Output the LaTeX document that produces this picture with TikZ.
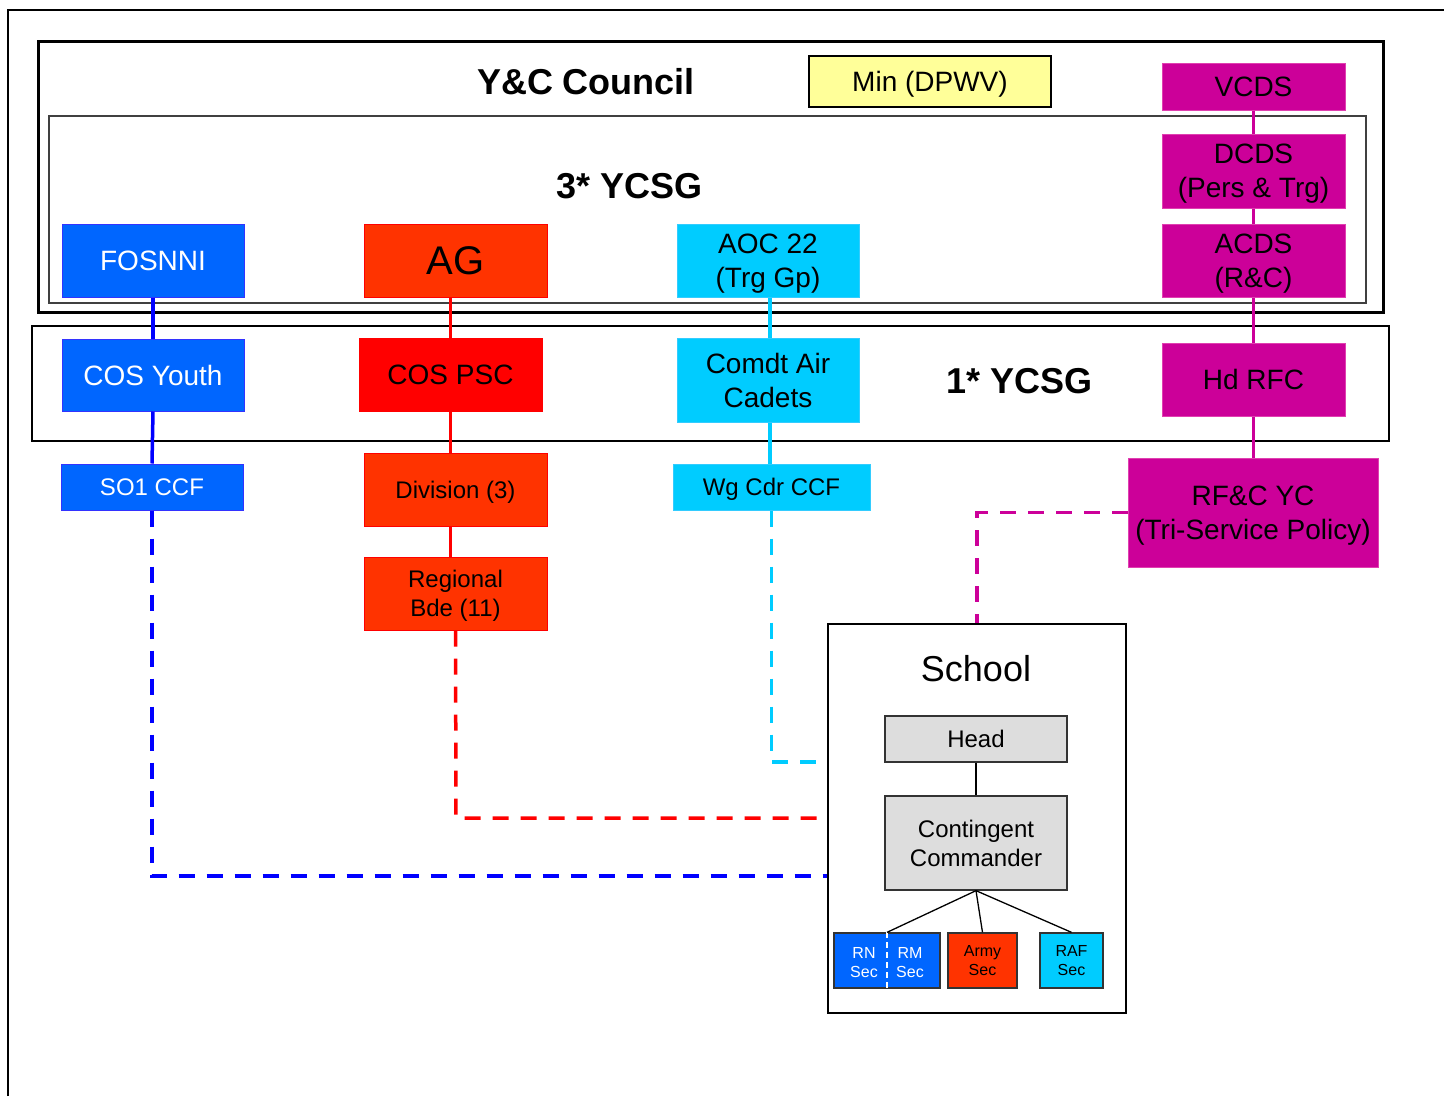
\documentclass[tikz,border=0pt]{standalone}
\usepackage{fontspec}
\setmainfont{Liberation Sans}
\usetikzlibrary{calc}
\definecolor{bluefill}{HTML}{0066FF}
\definecolor{blueedge}{HTML}{3333FF}
\definecolor{blueline}{HTML}{0000FF}
\definecolor{orfill}{HTML}{FF3300}
\definecolor{redfill}{HTML}{FF0000}
\definecolor{redline}{HTML}{FF0000}
\definecolor{cyanfill}{HTML}{00CCFF}
\definecolor{cyanedge}{HTML}{33CCFF}
\definecolor{magfill}{HTML}{CC0099}
\definecolor{magedge}{HTML}{E040B0}
\definecolor{yelfill}{HTML}{FFFF99}
\definecolor{grayfill}{HTML}{DDDDDD}
\newcommand{\fs}[2]{\fontsize{#1}{#2}\selectfont}
\tikzset{
  sz/.style n args={2}{minimum width=#1pt, minimum height=#2pt},
  basebox/.style={inner sep=0pt, align=center, line width=1pt, text depth=0pt},
  bluebox/.style={basebox, draw=blueedge, fill=bluefill, text=white},
  orbox/.style={basebox, draw=redfill, fill=orfill},
  redbox/.style={basebox, draw=redfill, fill=redfill},
  cyanbox/.style={basebox, draw=cyanedge, fill=cyanfill},
  magbox/.style={basebox, draw=magedge, fill=magfill},
  yelbox/.style={basebox, draw=black, fill=yelfill, line width=1.3pt},
  graybox/.style={inner sep=0pt, align=center, draw=black!80, fill=grayfill, line width=1.3pt},
  bconn/.style={draw=blueline, line width=3.5pt},
  rconn/.style={draw=redline, line width=3.5pt},
  cconn/.style={draw=cyanfill, line width=3.5pt},
  mconn/.style={draw=magfill, line width=3.5pt},
  dashpat/.style={dash pattern=on 16pt off 12pt},
  thinline/.style={draw=black, line width=1.3pt},
}
\begin{document}
\begin{tikzpicture}[x=1pt,y=-1pt]
\useasboundingbox (0,0) rectangle (1444,1096);
% page frame
\draw[line width=2pt] (8,1096) -- (8,10) -- (1444,10);
% group frames
\draw[line width=3pt] (38,41) rectangle (1383,312);
\draw[line width=1.8pt, black!75] (49,116) rectangle (1366,303);
\draw[line width=1.2pt] (32,326) rectangle (1389,441);
\node[font=\fs{36}{43}\bfseries] (ycc) at (586,82) {Y\&C Council};
\node[font=\fs{36}{43}\bfseries] (ycsg3) at (630,186) {3* YCSG};
\node[font=\fs{36}{43}\bfseries] (ycsg1) at (1020,381) {1* YCSG};
% blue column
\node[bluebox, sz={182}{73}, font=\fs{28}{34}] (fos) at (153,260.5) {FOSNNI};
\node[bluebox, sz={182}{72}, font=\fs{28}{34}] (cosy) at (153,375) {COS Youth};
\node[bluebox, sz={182}{46}, font=\fs{24}{29}] (so1) at (152,487) {SO1 CCF};
% red column
\node[orbox, sz={183}{73}, font=\fs{40}{48}] (ag) at (455.5,260.5) {AG};
\node[redbox, sz={183}{73}, font=\fs{28}{34}] (cospsc) at (450.5,374.5) {COS PSC};
\node[orbox, sz={183}{73}, font=\fs{24}{29}] (div) at (455.5,489.5) {Division (3)};
\node[orbox, sz={183}{73}, font=\fs{24}{29}] (reg) at (455.5,593.5) {Regional\\Bde (11)};
% cyan column
\node[cyanbox, sz={182}{73}, font=\fs{28}{34}] (aoc) at (768,260.5) {AOC 22\\(Trg Gp)};
\node[cyanbox, sz={182}{84}, font=\fs{28}{34}] (comdt) at (768,380) {Comdt Air\\Cadets};
\node[cyanbox, sz={197}{46}, font=\fs{24}{29}] (wg) at (771.5,487) {Wg Cdr CCF};
% yellow
\node[yelbox, sz={242}{51}, font=\fs{28}{34}] (min) at (930,81.5) {Min (DPWV)};
% magenta column
\node[magbox, sz={183}{47}, font=\fs{28}{34}] (vcds) at (1253.5,86.5) {VCDS};
\node[magbox, sz={183}{74}, font=\fs{28}{34}] (dcds) at (1253.5,171) {DCDS\\(Pers \& Trg)};
\node[magbox, sz={183}{73}, font=\fs{28}{34}] (acds) at (1253.5,260.5) {ACDS\\(R\&C)};
\node[magbox, sz={183}{73}, font=\fs{28}{34}] (hdrfc) at (1253.5,379.5) {Hd RFC};
\node[magbox, sz={250}{109}, font=\fs{28}{34}] (rfc) at (1253,512.5) {RF\&C YC\\(Tri-Service Policy)};
% school
\node[draw=black, line width=2pt, sz={298}{389}, inner sep=0pt] (school) at (977,818.5) {};
\node[font=\fs{36}{43}] (schooltxt) at (976,669) {School};
\node[graybox, sz={182}{46}, font=\fs{24}{29}] (head) at (976,739) {Head};
\node[graybox, sz={182}{94}, font=\fs{24}{29}] (cc) at (976,843) {Contingent\\Commander};
\node[bluebox, draw=black!80, line width=1.3pt, sz={106}{55}] (rn) at (887,960.5) {};
\node[orbox, draw=black!80, line width=1.3pt, sz={69}{55}, font=\fs{16}{19}] (army) at (982.5,960.5) {Army\\Sec};
\node[cyanbox, draw=black!80, line width=1.3pt, sz={63}{55}, font=\fs{16}{19}] (raf) at (1071.5,960.5) {RAF\\Sec};
\draw[white, line width=1.5pt, dash pattern=on 6pt off 4pt] (rn.north) -- (rn.south);
\node[text=white, font=\fs{16}{19}, align=center, text depth=0pt] (rntxt) at (864,962) {RN\\Sec};
\node[text=white, font=\fs{16}{19}, align=center, text depth=0pt] (rmtxt) at (910,962) {RM\\Sec};
\draw[thinline] (head) -- (cc);
\draw[thinline] (cc.south) -- (rn.north);
\draw[thinline] (cc.south) -- (army.north);
\draw[thinline] (cc.south) -- (raf.north);
% blue connectors
\draw[bconn] (fos) -- (cosy);
\draw[bconn] (cosy.south) -- (so1.north);
\coordinate (bbend) at (152,876);
\draw[bconn, dashpat] (so1.south) -- (bbend) -- (bbend -| school.west);
% red connectors
\draw[rconn] (ag.south -| cospsc.north) -- (cospsc.north);
\draw[rconn] (cospsc.south) -- (cospsc.south |- div.north);
\draw[rconn] (cospsc.south |- div.south) -- (cospsc.south |- reg.north);
\coordinate (rbend) at (456,818);
\draw[rconn, dashpat] (reg.south) -- (rbend) -- (rbend -| school.west);
% cyan connectors
\draw[cconn] (aoc.south -| 770,0) -- (comdt.north -| 770,0);
\draw[cconn] (comdt.south -| 770,0) -- (wg.north -| 770,0);
\coordinate (cbend) at (771.5,762);
\draw[cconn, dashpat] (wg.south) -- (cbend) -- (cbend -| school.west);
% magenta connectors
\draw[mconn] (vcds) -- (dcds);
\draw[mconn] (dcds) -- (acds);
\draw[mconn] (acds) -- (hdrfc);
\draw[mconn] (hdrfc.south) -- (hdrfc.south |- rfc.north);
\draw[mconn, dashpat] (rfc.west) -| (school.north);
\end{tikzpicture}
\end{document}
